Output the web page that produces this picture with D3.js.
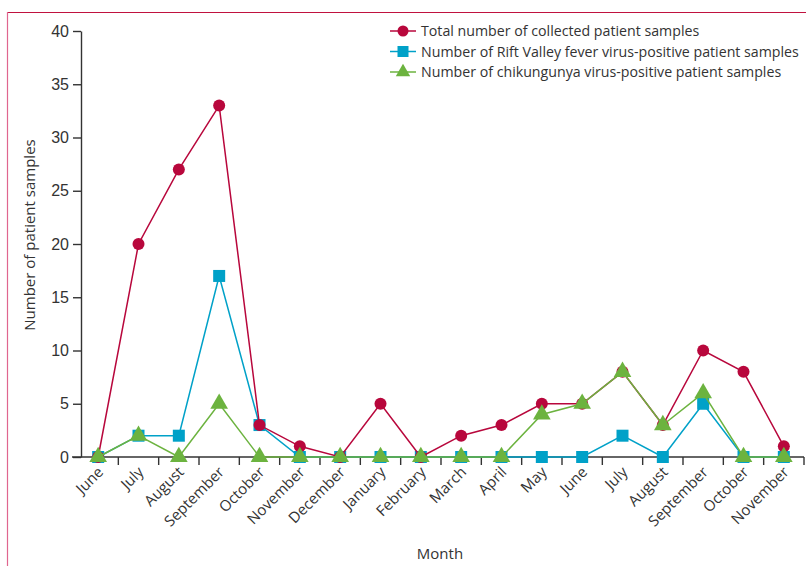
<!DOCTYPE html>
<html lang="en">
<head>
<meta charset="UTF-8">
<title>Patient samples by month</title>
<script src="https://d3js.org/d3.v7.min.js"></script>
<style>
    body { margin: 0; background: #fff; font-family: "Open Sans", "Noto Sans", sans-serif; }
    svg { display: block; }
    .axis text { fill: #333; }
    .axis path, .axis line { stroke: #333; stroke-width: 1.4; }
</style>
</head>
<body>
<div id="chart"></div>
<script>
    // month labels along the x axis (two seasons)
    const months = ["June", "July", "August", "September", "October", "November", "December",
        "January", "February", "March", "April", "May", "June", "July", "August",
        "September", "October", "November"];
    const totalSamples = [0, 20, 27, 33, 3, 1, 0, 5, 0, 2, 3, 5, 5, 8, 3, 10, 8, 1];
    const rvfPositive = [0, 2, 2, 17, 3, 0, 0, 0, 0, 0, 0, 0, 0, 2, 0, 5, 0, 0];
    const chikPositive = [0, 2, 0, 5, 0, 0, 0, 0, 0, 0, 0, 4, 5, 8, 3, 6, 0, 0];
    const yTicks = [0, 5, 10, 15, 20, 25, 30, 35, 40];
    const seriesNames = ["Total number of collected patient samples",
        "Number of Rift Valley fever virus-positive patient samples",
        "Number of chikungunya virus-positive patient samples"];

    const W = 806, H = 566;
    const red = "#b8073c", blue = "#00a1c8", green = "#6cb33f";

    const svg = d3.select("#chart").append("svg")
        .attr("width", W).attr("height", H);

    // frame lines
    svg.append("line").attr("x1", 7).attr("x2", W).attr("y1", 12.5).attr("y2", 12.5)
        .attr("stroke", "#c0123f").attr("stroke-width", 1.2);
    svg.append("line").attr("x1", 7.5).attr("x2", 7.5).attr("y1", 12).attr("y2", H)
        .attr("stroke", "#e0668f").attr("stroke-width", 1.2);

    const idx = d3.range(months.length);
    const x = d3.scaleBand().domain(idx).range([78, 804]);
    const y = d3.scaleLinear().domain([0, 40]).range([457, 31]);
    const cx = i => x(i) + x.bandwidth() / 2;

    // y axis
    svg.append("g").attr("class", "axis")
        .attr("transform", "translate(81,0)")
        .call(d3.axisLeft(y).tickValues(yTicks).tickSize(8).tickPadding(4).tickSizeOuter(0))
        .call(g => g.selectAll("text").style("font-size", "16px"));

    // x axis with ticks at band boundaries
    const xg = svg.append("g").attr("class", "axis")
        .attr("transform", "translate(0," + y(0) + ")");
    xg.append("line").attr("x1", 72).attr("x2", 804).attr("y1", 0).attr("y2", 0);
    xg.selectAll(".tk").data(d3.range(months.length + 1).slice(1)).enter().append("line")
        .attr("x1", d => x.range()[0] + d * x.step()).attr("x2", d => x.range()[0] + d * x.step())
        .attr("y1", 0).attr("y2", 8);
    xg.selectAll(".lbl").data(idx).enter().append("text")
        .attr("transform", i => "translate(" + (cx(i) + 6) + ",16) rotate(-45)")
        .attr("text-anchor", "end")
        .style("font-size", "15px")
        .text(i => months[i]);

    // axis titles
    svg.append("text").attr("x", 440).attr("y", 559).attr("text-anchor", "middle")
        .style("font-size", "15px").attr("fill", "#333").text("Month");
    svg.append("text").attr("transform", "translate(35,235) rotate(-90)")
        .attr("text-anchor", "middle").style("font-size", "15px").attr("fill", "#333")
        .text("Number of patient samples");

    const line = d3.line().x((d, i) => cx(i)).y(d => y(d));
    const tri = d3.symbol().type(d3.symbolTriangle).size(135);

    function drawSeries(vals, color, shape) {
        svg.append("path").datum(vals).attr("d", line)
            .attr("fill", "none").attr("stroke", color).attr("stroke-width", 1.5);
        const g = svg.append("g");
        vals.forEach((v, i) => {
            if (shape === "circle") {
                g.append("circle").attr("cx", cx(i)).attr("cy", y(v)).attr("r", 6).attr("fill", color);
            } else if (shape === "square") {
                g.append("rect").attr("x", cx(i) - 6).attr("y", y(v) - 6)
                    .attr("width", 12).attr("height", 12).attr("fill", color);
            } else {
                g.append("path").attr("d", tri)
                    .attr("transform", "translate(" + cx(i) + "," + y(v) + ")").attr("fill", color);
            }
        });
    }

    drawSeries(rvfPositive, blue, "square");
    drawSeries(totalSamples, red, "circle");
    drawSeries(chikPositive, green, "triangle");

    // legend
    const legend = [[red, "circle"], [blue, "square"], [green, "triangle"]];
    legend.forEach((l, i) => {
        const ly = 31 + i * 20.5;
        const g = svg.append("g");
        g.append("line").attr("x1", 390).attr("x2", 416).attr("y1", ly).attr("y2", ly)
            .attr("stroke", l[0]).attr("stroke-width", 1.5);
        if (l[1] === "circle") g.append("circle").attr("cx", 403).attr("cy", ly).attr("r", 5.5).attr("fill", l[0]);
        else if (l[1] === "square") g.append("rect").attr("x", 397.5).attr("y", ly - 5.5).attr("width", 11).attr("height", 11).attr("fill", l[0]);
        else g.append("path").attr("d", d3.symbol().type(d3.symbolTriangle).size(90)).attr("transform", "translate(403," + ly + ")").attr("fill", l[0]);
        g.append("text").attr("x", 421).attr("y", ly + 5).style("font-size", "14.2px").attr("fill", "#333")
            .text(seriesNames[i]);
    });
</script>
</body>
</html>
